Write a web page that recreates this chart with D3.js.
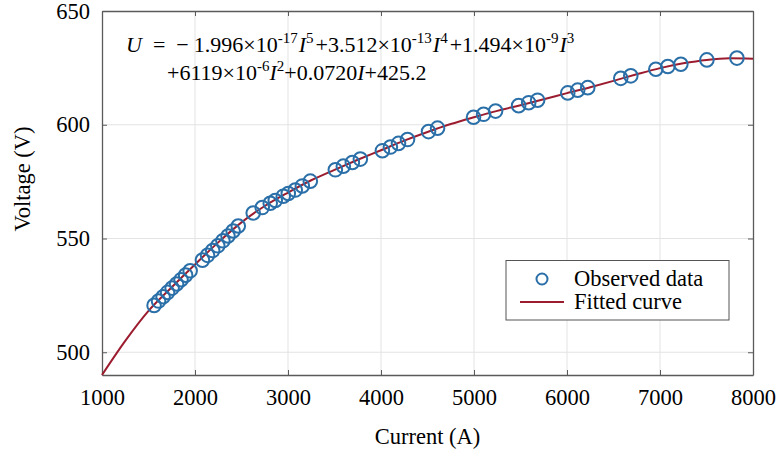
<!DOCTYPE html>
<html>
<head>
<meta charset="utf-8">
<script src="https://cdn.jsdelivr.net/npm/d3@7"></script>
<style>
  body { margin: 0; background: #fff; }
  svg { display: block; font-family: "Liberation Serif", "Times New Roman", serif; }
</style>
</head>
<body>
<svg id="svg"></svg>
<script>
// observed points (current A, voltage V)
const obsCurrent = [1560, 1608, 1657, 1705, 1754, 1802, 1850, 1899, 1948,
  2080, 2135, 2190, 2245, 2300, 2355, 2410, 2465,
  2626, 2723, 2809, 2863, 2949, 3003, 3078, 3154, 3240,
  3509, 3595, 3692, 3778,
  4015, 4101, 4188, 4285,
  4511, 4608,
  4995, 5103, 5232,
  5480, 5588, 5684,
  6008, 6115, 6223,
  6578, 6686,
  6955, 7084, 7224,
  7504, 7827];
const obsVoltage = [520.6, 522.5, 524.4, 526.3, 528.2, 530.0, 531.9, 533.9, 535.8,
  540.5, 542.6, 544.7, 546.8, 549.0, 551.1, 553.3, 555.5,
  561.2, 563.6, 565.5, 566.7, 568.6, 569.8, 571.3, 573.1, 575.2,
  580.2, 581.8, 583.4, 584.9,
  588.6, 590.2, 591.8, 593.5,
  597.0, 598.5,
  603.3, 604.6, 606.0,
  608.4, 609.7, 610.8,
  614.0, 615.2, 616.3,
  620.4, 621.5,
  624.4, 625.6, 626.6,
  628.5, 629.3];

// fitted curve
const fitCurrent = [1000, 1250, 1500, 1750, 2000, 2250, 2500, 2750, 3000, 3250, 3500, 3750,
  4000, 4250, 4500, 4750, 5000, 5250, 5500, 5750, 6000, 6250, 6500, 6750, 7000, 7250, 7500, 7750, 8000];
const fitVoltage = [490, 505, 518.2, 528.6, 538.6, 548.3, 557.1, 564.3, 570.2, 575.6, 580.2, 584.6,
  588.8, 593.0, 596.8, 600.3, 603.3, 606.1, 608.6, 611.2, 613.9, 616.5, 619.3, 622.2, 624.9, 627.0, 628.5, 629.2, 629.0];

const xTicks = [1000, 2000, 3000, 4000, 5000, 6000, 7000, 8000];
const yTicks = [500, 550, 600, 650];

const width = 779, height = 457;
const pl = 102, pr = 753, pt = 11, pb = 375;
const blue = "#2a6fa8", red = "#9b1c2e", axisCol = "#5a5a5a";

const svg = d3.select("#svg").attr("width", width).attr("height", height);

const x = d3.scaleLinear().domain([1000, 8000]).range([pl, pr]);
const y = d3.scaleLinear().domain([490, 650]).range([pb, pt]);

// grid
svg.append("g").selectAll("line").data(xTicks.slice(1, -1)).join("line")
  .attr("x1", d => x(d)).attr("x2", d => x(d)).attr("y1", pt).attr("y2", pb)
  .attr("stroke", "#e3e3e3").attr("stroke-width", 1);
svg.append("g").selectAll("line").data(yTicks.slice(0, -1)).join("line")
  .attr("x1", pl).attr("x2", pr).attr("y1", d => y(d)).attr("y2", d => y(d))
  .attr("stroke", "#e3e3e3").attr("stroke-width", 1);

// axes (ticks pointing inward, box all round)
const fs = 22.5;
function styleAxis(g) {
  g.select(".domain").attr("stroke", axisCol).attr("stroke-width", 1.3);
  g.selectAll(".tick line").attr("stroke", axisCol).attr("stroke-width", 1);
  g.selectAll("text").attr("font-family", "Liberation Serif, Times New Roman, serif")
    .attr("font-size", fs).attr("fill", "#000");
}
svg.append("g").attr("transform", `translate(0,${pb})`)
  .call(d3.axisBottom(x).tickValues(xTicks).tickSizeInner(-5).tickSizeOuter(0).tickPadding(14).tickFormat(d3.format("d")))
  .call(styleAxis);
svg.append("g").attr("transform", `translate(0,${pt})`)
  .call(d3.axisTop(x).tickValues(xTicks).tickSizeInner(-5).tickSizeOuter(0).tickFormat(""))
  .call(styleAxis);
svg.append("g").attr("transform", `translate(${pl},0)`)
  .call(d3.axisLeft(y).tickValues(yTicks).tickSizeInner(-5).tickSizeOuter(0).tickPadding(12).tickFormat(d3.format("d")))
  .call(styleAxis);
svg.append("g").attr("transform", `translate(${pr},0)`)
  .call(d3.axisRight(y).tickValues(yTicks).tickSizeInner(-5).tickSizeOuter(0).tickFormat(""))
  .call(styleAxis);

// fitted curve
const fit = fitCurrent.map((c, i) => [c, fitVoltage[i]]);
svg.append("path").datum(fit)
  .attr("fill", "none").attr("stroke", red).attr("stroke-width", 2)
  .attr("d", d3.line().x(d => x(d[0])).y(d => y(d[1])).curve(d3.curveMonotoneX));

// observed points
const obs = obsCurrent.map((c, i) => [c, obsVoltage[i]]);
svg.append("g").selectAll("circle").data(obs).join("circle")
  .attr("cx", d => x(d[0])).attr("cy", d => y(d[1])).attr("r", 6.8)
  .attr("fill", "none").attr("stroke", blue).attr("stroke-width", 2);

// axis titles
svg.append("text").attr("x", (pl + pr) / 2).attr("y", 444).attr("text-anchor", "middle")
  .attr("font-size", fs).text("Current (A)");
svg.append("text").attr("transform", "translate(30,179) rotate(-90)")
  .attr("text-anchor", "middle").attr("font-size", fs).text("Voltage (V)");

// equation: [text, kind, dx]
const eqLines = [
  [["U", "i"], ["=", "", 11], ["−", "", 11], ["1.996×10", "", 5], ["-17", "s"], ["I", "i", 1], ["5", "s"],
   ["+3.512×10", "", 2], ["-13", "s"], ["I", "i", 1], ["4", "s"],
   ["+1.494×10", "", 2], ["-9", "s"], ["I", "i", 1], ["3", "s"]],
  [["+6119×10"], ["-6", "s"], ["I", "i"], ["2", "s"], ["+0.0720"], ["I", "i"], ["+425.2"]]
];
const eqPos = [[126, 52], [167, 80]];
eqLines.forEach((segs, li) => {
  const t = svg.append("text").attr("x", eqPos[li][0]).attr("y", eqPos[li][1]).attr("font-size", 22);
  let up = false;
  segs.forEach(s => {
    const sp = t.append("tspan").text(s[0]);
    if (s[2]) sp.attr("dx", s[2]);
    if (s[1] === "i") sp.attr("font-style", "italic");
    if (s[1] === "s") {
      sp.attr("font-size", 15);
      if (!up) { sp.attr("dy", -9); up = true; }
    } else if (up) { sp.attr("dy", 9); up = false; }
  });
});

// legend
const lg = svg.append("g");
lg.append("rect").attr("x", 506).attr("y", 260.5).attr("width", 223).attr("height", 59.5)
  .attr("fill", "#fff").attr("stroke", "#555").attr("stroke-width", 1);
lg.append("circle").attr("cx", 542).attr("cy", 279).attr("r", 5.5)
  .attr("fill", "none").attr("stroke", blue).attr("stroke-width", 2);
lg.append("line").attr("x1", 520).attr("x2", 564).attr("y1", 302).attr("y2", 302)
  .attr("stroke", red).attr("stroke-width", 2);
lg.append("text").attr("x", 574).attr("y", 286).attr("font-size", fs).text("Observed data");
lg.append("text").attr("x", 574).attr("y", 309).attr("font-size", fs).text("Fitted curve");
</script>
</body>
</html>
